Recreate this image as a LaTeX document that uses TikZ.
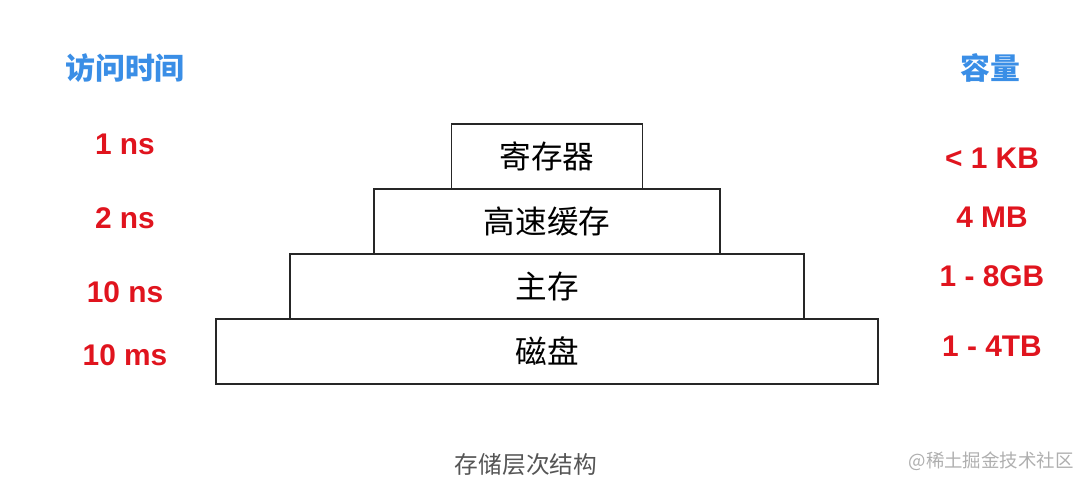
\documentclass[tikz,border=0pt]{standalone}
\usepackage{fontspec}
\setmainfont{Liberation Sans}
\newfontfamily\cjk{Noto Sans CJK SC}
\usepackage{tikz}
\usetikzlibrary{positioning}
\definecolor{kopf}{RGB}{58,142,230}
\definecolor{wert}{RGB}{224,20,30}
\definecolor{unter}{RGB}{85,85,85}
\definecolor{marke}{RGB}{175,175,175}
\tikzset{
    lage/.style={
           rectangle,
           draw=black!85, line width=1.1pt,
           minimum height=1.3cm,
           outer sep=0pt,
           inner sep=0pt,
           font=\cjk\fontsize{18}{20}\selectfont,
           text centered},
    kopf/.style={
           text=kopf,
           font=\cjk\bfseries\fontsize{17}{19}\selectfont},
    wert/.style={
           text=wert,
           font=\bfseries\fontsize{17}{19}\selectfont}
}
\begin{document}
\begin{tikzpicture}[x=0.02cm, y=-0.02cm, node distance=0pt]
        \useasboundingbox (0,0) rectangle (1080,486);
        % pyramid
        \node[lage, minimum width=3.82cm, anchor=north] (reg) at (547,124) {寄存器};
        \node[lage, minimum width=6.92cm, below=of reg] (cache) {高速缓存};
        \node[lage, minimum width=10.3cm, below=of cache] (mem) {主存};
        \node[lage, minimum width=13.24cm, below=of mem] (disk) {磁盘};
        % columns
        \node[kopf] (zeit) at (125,68) {访问时间};
        \node[kopf] (groesse) at (990,68) {容量};
        \node[wert] (zreg) at (125,144) {1 ns};
        \node[wert] (zcache) at (125,218) {2 ns};
        \node[wert] (zmem) at (125,292) {10 ns};
        \node[wert] (zdisk) at (125,355) {10 ms};
        \node[wert] (greg) at (992,158) {< 1 KB};
        \node[wert] (gcache) at (992,217) {4 MB};
        \node[wert] (gmem) at (992,276) {1 - 8GB};
        \node[wert] (gdisk) at (992,346) {1 - 4TB};
        \node[text=unter, font=\cjk\fontsize{13.5}{15}\selectfont] (titel) at (526,465) {存储层次结构};
        \node[text=marke, font=\cjk\fontsize{10.5}{12}\selectfont, anchor=east, inner sep=0pt] (marke) at (1074,461) {@稀土掘金技术社区};
    \end{tikzpicture}
\end{document}
